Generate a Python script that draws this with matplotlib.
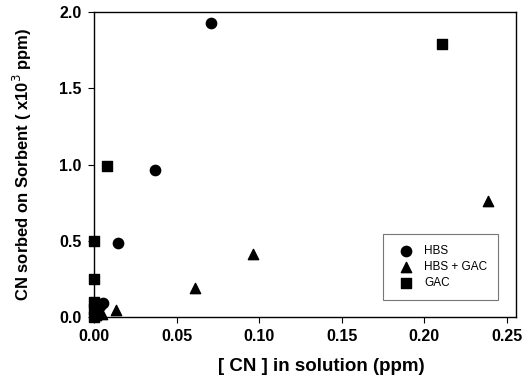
import matplotlib
matplotlib.use("Agg")
import matplotlib.pyplot as plt

plt.rcParams['font.family'] = ['Liberation Sans', 'DejaVu Sans']

# HBS
hbs_x = [0.0708, 0.0369, 0.0145, 0.0054, 0.0036, 0.0010]
hbs_y = [1.93, 0.967, 0.485, 0.09, 0.07, 0.03]
# HBS + GAC
hg_x = [0.2385, 0.096, 0.061, 0.0133, 0.0050, 0.0010]
hg_y = [0.76, 0.41, 0.19, 0.045, 0.02, 0.01]
# GAC
gac_x = [0.2105, 0.0079, 0.0, 0.0, 0.0, 0.0, 0.0010, 0.0]
gac_y = [1.79, 0.99, 0.50, 0.25, 0.10, 0.05, 0.02, 0.0]

fig = plt.figure(figsize=(5.31, 3.80), dpi=100)
ax = fig.add_axes([0.177, 0.166, 0.795, 0.802])

ax.scatter(hbs_x, hbs_y, marker='o', s=55, color='black', label='HBS', clip_on=False, zorder=3)
ax.scatter(hg_x, hg_y, marker='^', s=55, color='black', label='HBS + GAC', clip_on=False, zorder=3)
ax.scatter(gac_x, gac_y, marker='s', s=45, color='black', label='GAC', clip_on=False, zorder=3)

ax.set_xlim(0, 0.2555)
ax.set_ylim(0, 2.0)
ax.set_xticks([0, 0.05, 0.10, 0.15, 0.20, 0.25])
ax.set_xticklabels(['0.00', '0.05', '0.10', '0.15', '0.20', '0.25'])
ax.set_yticks([0, 0.5, 1.0, 1.5, 2.0])
ax.set_yticklabels(['0.0', '0.5', '1.0', '1.5', '2.0'])
ax.tick_params(direction='out', length=4, width=0.8, top=False, right=False, pad=5)
for lab in ax.get_xticklabels() + ax.get_yticklabels():
    lab.set_fontweight('bold')
    lab.set_fontsize(11.5)
for sp in ax.spines.values():
    sp.set_linewidth(1.0)

ax.set_xlabel('[ CN ] in solution (ppm)', fontsize=13.5, fontweight='bold', labelpad=10)
ax.xaxis.label.set_x(0.538)
ax.set_ylabel('CN sorbed on Sorbent ( x10$^3$ ppm)', fontsize=12, fontweight='bold', labelpad=18)

leg = ax.legend(loc='lower left', bbox_to_anchor=(0.685, 0.056, 0.272, 0.212), mode='expand',
                fontsize=8.5, frameon=True, fancybox=False, borderaxespad=0,
                handletextpad=0.6, labelspacing=0.35, borderpad=0.9, markerscale=1.0)
leg.get_frame().set_edgecolor('#555555')
leg.get_frame().set_linewidth(0.8)

fig.savefig('out.png', dpi=100)
